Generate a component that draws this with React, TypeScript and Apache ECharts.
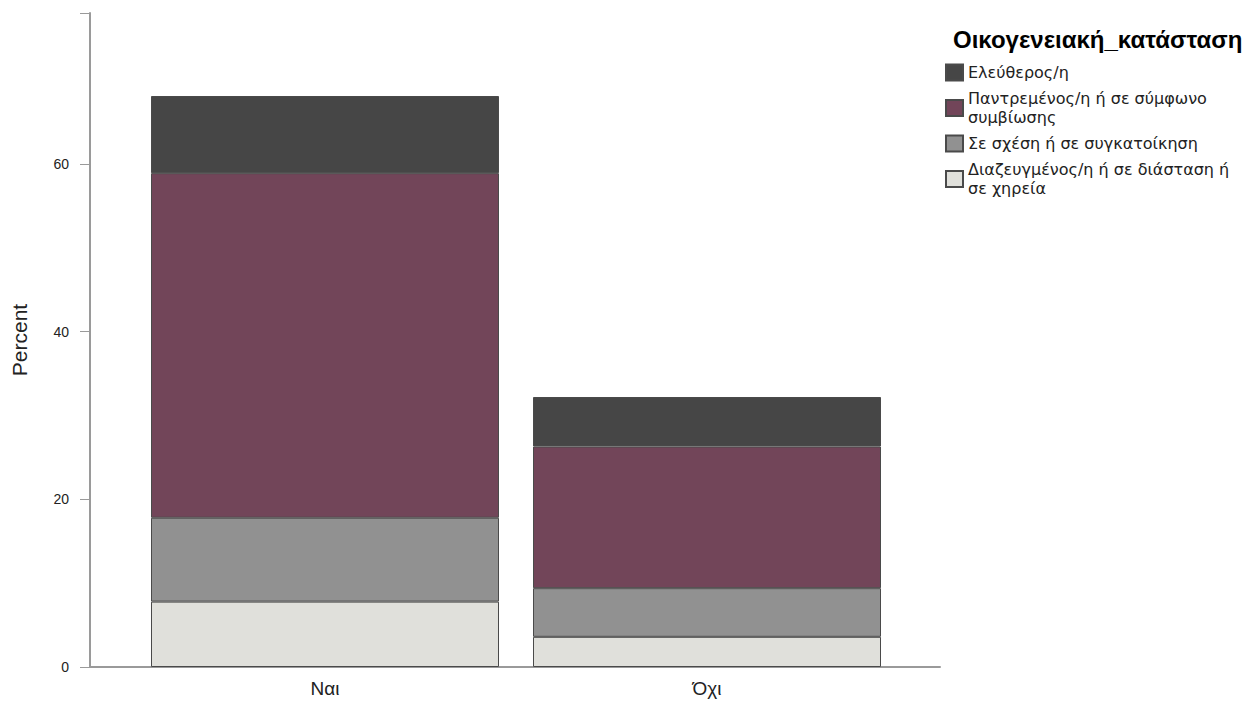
import React, { useEffect, useRef } from "react";
import * as echarts from "echarts";

const categories = ["Ναι", "Όχι"];
const seriesNames = [
  "Διαζευγμένος/η ή σε διάσταση ή σε χηρεία",
  "Σε σχέση ή σε συγκατοίκηση",
  "Παντρεμένος/η ή σε σύμφωνο συμβίωσης",
  "Ελεύθερος/η",
];
const legendLabels = [
  "Διαζευγμένος/η ή σε διάσταση ή\nσε χηρεία",
  "Σε σχέση ή σε συγκατοίκηση",
  "Παντρεμένος/η ή σε σύμφωνο\nσυμβίωσης",
  "Ελεύθερος/η",
];
const divorcedValues = [7.8, 3.6];
const relationshipValues = [10.0, 5.8];
const marriedValues = [41.1, 16.9];
const singleValues = [9.2, 5.9];
const seriesColors = ["#e0e0db", "#919191", "#724559", "#464646"];
const yTicks = [0, 20, 40, 60];
const legendTitle = "Οικογενειακή_κατάσταση";
const yAxisName = "Percent";

export default function App() {
  const ref = useRef<HTMLDivElement>(null);
  useEffect(() => {
    if (!ref.current) return;
    const chart = echarts.init(ref.current, null, { renderer: "svg" });
    const values = [divorcedValues, relationshipValues, marriedValues, singleValues];
    const font = "Liberation Sans, Arial, sans-serif";
    const legendFont = "DejaVu Sans, Liberation Sans, sans-serif";
    chart.setOption({
      animation: false,
      backgroundColor: "#ffffff",
      title: {
        text: legendTitle,
        left: 953,
        top: 27,
        textStyle: { fontFamily: font, fontSize: 24, fontWeight: "bold", color: "#000" },
        padding: 0,
      },
      legend: {
        orient: "vertical",
        left: 945,
        top: 63,
        padding: 0,
        itemGap: 7,
        itemWidth: 17,
        itemHeight: 16,
        icon: "rect",
        data: [seriesNames[3], seriesNames[2], seriesNames[1], seriesNames[0]],
        formatter: (name: string) => legendLabels[seriesNames.indexOf(name)],
        textStyle: { fontFamily: legendFont, fontSize: 16, lineHeight: 19, color: "#222" },
        selectedMode: false,
      },
      grid: [
        { left: 134, right: 362, top: 13, bottom: 37, containLabel: false },
        { left: 90, right: 320, top: 13, bottom: 37, containLabel: false },
      ],
      xAxis: [
        {
          type: "category",
          gridIndex: 0,
          data: categories,
          axisLine: { show: false },
          axisTick: { show: false },
          axisLabel: { fontFamily: font, fontSize: 19, color: "#222", margin: 12 },
        },
        {
          type: "value",
          gridIndex: 1,
          min: 0,
          max: 1,
          axisLine: { show: true, lineStyle: { color: "#9a9a9a", width: 2 } },
          axisTick: { show: false },
          axisLabel: { show: false },
          splitLine: { show: false },
        },
      ],
      yAxis: [
        {
          type: "value",
          gridIndex: 0,
          min: 0,
          max: 78,
          show: false,
          splitLine: { show: false },
        },
        {
          type: "value",
          gridIndex: 1,
          min: 0,
          max: 78,
          interval: 20,
          name: yAxisName,
          nameLocation: "middle",
          nameGap: 60,
          nameTextStyle: { fontFamily: font, fontSize: 21, color: "#222" },
          axisLine: { show: true, lineStyle: { color: "#9a9a9a", width: 2 } },
          axisTick: { show: true, length: 10, lineStyle: { color: "#9a9a9a", width: 1 } },
          axisLabel: {
            fontFamily: font,
            fontSize: 14,
            color: "#222",
            margin: 21,
            formatter: (v: number) => (yTicks.includes(v) ? String(v) : ""),
          },
          splitLine: { show: false },
        },
      ],
      series: values.map((vals, i) => ({
        name: seriesNames[i],
        type: "bar",
        stack: "total",
        xAxisIndex: 0,
        yAxisIndex: 0,
        barWidth: 348,
        data: vals,
        itemStyle: { color: seriesColors[i], borderColor: "#4a4a4a", borderWidth: 1 },
      })),
    });
    return () => chart.dispose();
  }, []);
  return <div ref={ref} style={{ width: 1260, height: 704, position: "absolute", left: 0, top: 0 }} />;
}
